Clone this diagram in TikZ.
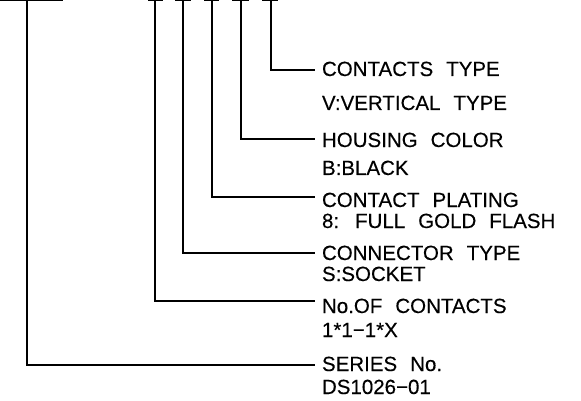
\documentclass[tikz,border=0pt]{standalone}
\usepackage{fontspec}
\setmainfont[FakeBold=0.3]{Liberation Sans}
\newcommand{\gp}{\hspace{13pt}}
\begin{document}
\begin{tikzpicture}[x=1pt,y=-1pt,
  lead/.style={line width=1.9pt,black},
  tick/.style={line width=1.4pt,black},
  lab/.style={font=\fontsize{20.5}{22}\selectfont,inner xsep=7pt,inner ysep=0pt,outer sep=0pt,anchor=base west}]
\useasboundingbox (0,0) rectangle (581,401);
% top cut-off marks
\draw[tick] (0,0.8) -- (63,0.8);
\draw[tick] (148,0.8) -- (163,0.8);
\draw[tick] (175,0.8) -- (191,0.8);
\draw[tick] (204,0.8) -- (219,0.8);
\draw[tick] (232,0.8) -- (249,0.8);
\draw[tick] (262,0.8) -- (278,0.8);
% tops of leads
\coordinate (t1) at (27,0);
\coordinate (t2) at (155,0);
\coordinate (t3) at (183,0);
\coordinate (t4) at (212,0);
\coordinate (t5) at (241,0);
\coordinate (t6) at (271,0);
% labels
\node[lab] (l6) at (315,76) {CONTACTS\gp TYPE};
\node[lab] (m6) at (315,110) {V:VERTICAL\gp TYPE};
\node[lab] (l5) at (315,147) {HOUSING\gp COLOR};
\node[lab] (m5) at (315,175) {B:BLACK};
\node[lab] (l4) at (315,207) {CONTACT\gp PLATING};
\node[lab] (m4) at (315,228) {8:\hspace{16pt}FULL\gp GOLD\gp FLASH};
\node[lab] (l3) at (315,260) {CONNECTOR\gp TYPE};
\node[lab] (m3) at (315,281) {S:SOCKET};
\node[lab] (l2) at (315,313) {No.OF\gp CONTACTS};
\node[lab] (m2) at (315,337) {1*1−1*X};
\node[lab] (l1) at (315,371) {SERIES\gp No.};
\node[lab] (m1) at (315,394) {DS1026−01};
% leads
\draw[lead] (t6) |- ([yshift=6pt]l6.base west);
\draw[lead] (t5) |- ([yshift=8pt]l5.base west);
\draw[lead] (t4) |- ([yshift=10pt]l4.base west);
\draw[lead] (t3) |- ([yshift=7pt]l3.base west);
\draw[lead] (t2) |- ([yshift=12pt]l2.base west);
\draw[lead] (t1) |- ([yshift=6pt]l1.base west);
\end{tikzpicture}
\end{document}
